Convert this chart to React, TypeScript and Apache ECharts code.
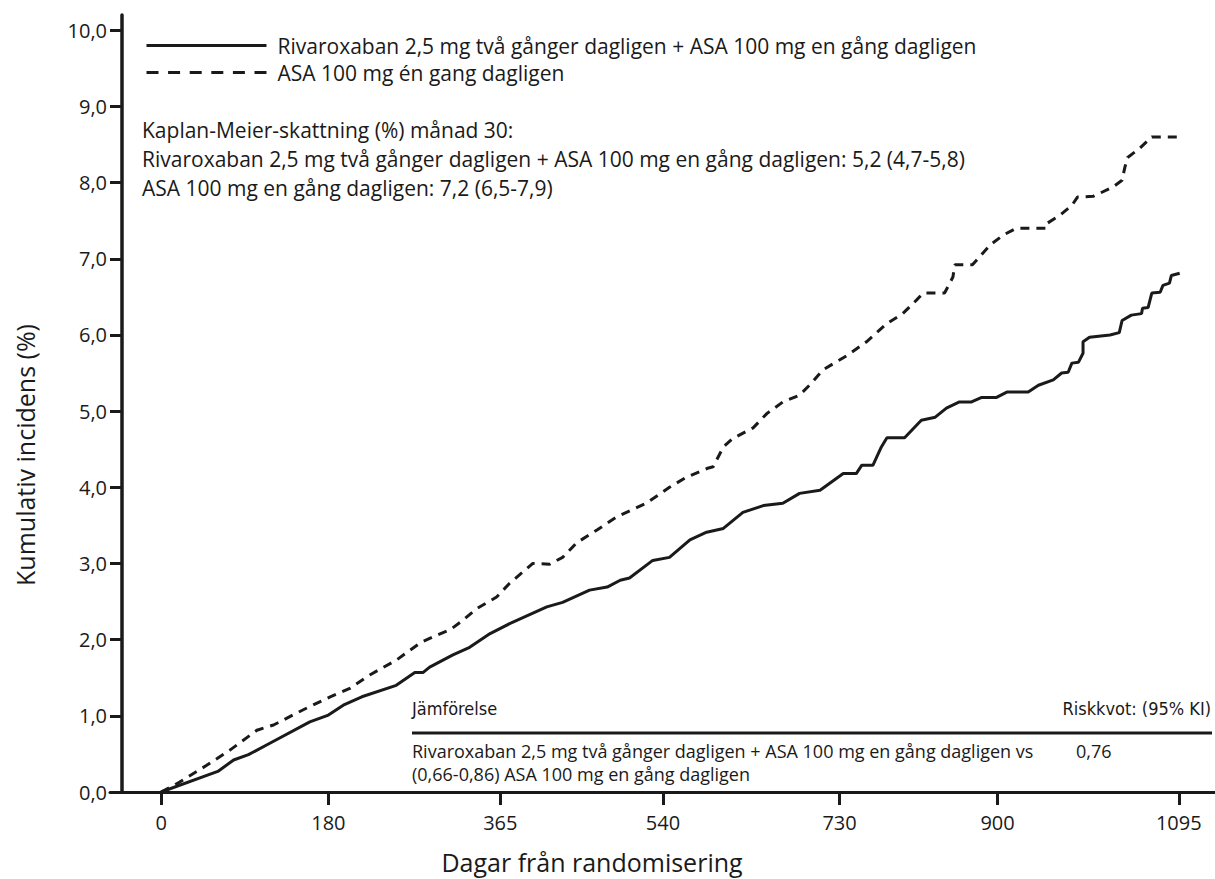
import React, { useEffect, useRef } from "react";
import * as echarts from "echarts";

const xTickValues = [0, 180, 365, 540, 730, 900, 1095];
const yTickValues = [0, 1, 2, 3, 4, 5, 6, 7, 8, 9, 10];

const rivaName = "Rivaroxaban 2,5 mg två gånger dagligen + ASA 100 mg en gång dagligen";
const asaName = "ASA 100 mg én gang dagligen";

const rivaDays = [0, 61, 78, 94, 117, 160, 180, 196, 216, 253, 273, 282, 289, 314, 332, 354, 375, 415, 432, 461, 480, 494, 504, 529, 547, 569, 587, 605, 626, 648, 669, 687, 709, 734, 748, 754, 766, 775, 781, 800, 818, 833, 845, 859, 872, 883, 899, 910, 933, 944, 960, 969, 976, 980, 987, 992, 992, 999, 1021, 1031, 1034, 1044, 1055, 1056, 1062, 1066, 1075, 1078, 1085, 1087, 1096];
const rivaIncidence = [0, 0.27, 0.42, 0.49, 0.64, 0.92, 1.01, 1.14, 1.25, 1.4, 1.57, 1.57, 1.64, 1.8, 1.9, 2.08, 2.21, 2.43, 2.49, 2.65, 2.69, 2.78, 2.81, 3.04, 3.08, 3.31, 3.41, 3.46, 3.67, 3.76, 3.79, 3.92, 3.96, 4.18, 4.18, 4.29, 4.29, 4.53, 4.65, 4.65, 4.88, 4.92, 5.04, 5.12, 5.12, 5.18, 5.18, 5.25, 5.25, 5.34, 5.41, 5.5, 5.51, 5.63, 5.64, 5.76, 5.91, 5.97, 6.0, 6.03, 6.19, 6.26, 6.28, 6.35, 6.36, 6.55, 6.56, 6.65, 6.68, 6.78, 6.81];

const asaDays = [0, 20, 49, 74, 103, 121, 153, 182, 203, 225, 253, 279, 297, 311, 322, 340, 361, 375, 400, 418, 432, 447, 469, 490, 522, 547, 565, 588, 594, 605, 615, 637, 652, 669, 687, 700, 712, 738, 759, 781, 798, 813, 820, 843, 852, 854, 873, 892, 906, 920, 953, 954, 967, 980, 986, 1003, 1024, 1034, 1037, 1040, 1053, 1066, 1100];
const asaIncidence = [0, 0.13, 0.35, 0.55, 0.81, 0.88, 1.08, 1.25, 1.36, 1.54, 1.73, 1.96, 2.06, 2.13, 2.23, 2.41, 2.56, 2.74, 3.0, 2.99, 3.08, 3.27, 3.44, 3.61, 3.79, 4.0, 4.13, 4.25, 4.27, 4.53, 4.64, 4.78, 4.97, 5.12, 5.21, 5.37, 5.54, 5.73, 5.91, 6.15, 6.28, 6.46, 6.55, 6.55, 6.76, 6.92, 6.92, 7.18, 7.31, 7.4, 7.4, 7.47, 7.57, 7.7, 7.81, 7.82, 7.94, 8.03, 8.2, 8.33, 8.45, 8.6, 8.6];

const yAxisTitle = "Kumulativ incidens (%)";
const xAxisTitle = "Dagar från randomisering";
const kmTitle = "Kaplan-Meier-skattning (%) månad 30:";
const kmLines = [
  "Rivaroxaban 2,5 mg två gånger dagligen + ASA 100 mg en gång dagligen: 5,2 (4,7-5,8)",
  "ASA 100 mg en gång dagligen: 7,2 (6,5-7,9)",
];
const comparisonHeader = "Jämförelse";
const hazardHeader = "Riskkvot: (95% KI)";
const comparisonRow1 = "Rivaroxaban 2,5 mg två gånger dagligen + ASA 100 mg en gång dagligen vs";
const hazardValue = "0,76";
const comparisonRow2 = "(0,66-0,86) ASA 100 mg en gång dagligen";

const FONT = '"Open Sans", "Noto Sans", sans-serif';
const NARROW = '"Liberation Sans Narrow", "DejaVu Sans Condensed", "Open Sans", sans-serif';
const INK = "#1a1a1a";

export default function App() {
  const ref = useRef<HTMLDivElement>(null);
  useEffect(() => {
    if (!ref.current) return;
    const chart = echarts.init(ref.current, undefined, { renderer: "svg" });
    const txt = (text: string, x: number, y: number, size: number, family = FONT, align = "left") => ({
      type: "text",
      x,
      y,
      silent: true,
      style: { text, fontSize: size, fontFamily: family, fill: INK, align, verticalAlign: "middle" },
    });
    chart.setOption({
      animation: false,
      backgroundColor: "#ffffff",
      textStyle: { fontFamily: FONT },
      grid: { left: 110, right: 0, top: 15, bottom: 87, containLabel: false },
      xAxis: {
        type: "value",
        min: -55,
        max: 1134,
        axisLine: { show: true, onZero: false, lineStyle: { color: INK, width: 3 } },
        axisTick: { show: true, customValues: xTickValues, length: 13, lineStyle: { color: INK, width: 3 } },
        axisLabel: {
          customValues: xTickValues,
          margin: 20,
          fontSize: 20,
          color: INK,
          fontFamily: FONT,
          formatter: (v: number) => String(v),
        },
        splitLine: { show: false },
      },
      yAxis: {
        type: "value",
        min: 0,
        max: 10.2,
        offset: -12,
        axisLine: { show: true, onZero: false, lineStyle: { color: INK, width: 3.5 } },
        axisTick: { show: true, customValues: yTickValues, length: 12, lineStyle: { color: INK, width: 3 } },
        axisLabel: {
          customValues: yTickValues,
          margin: 15,
          fontSize: 20,
          color: INK,
          fontFamily: FONT,
          formatter: (v: number) => v.toFixed(1).replace(".", ","),
        },
        splitLine: { show: false },
      },
      legend: {
        orient: "vertical",
        left: 140,
        top: 30,
        itemWidth: 120,
        itemHeight: 14,
        itemGap: 6,
        itemStyle: { opacity: 0, borderWidth: 0 },
        lineStyle: { width: 3 },
        textStyle: { fontSize: 21, color: INK, fontFamily: FONT, padding: [0, 0, 0, 6] },
        data: [
          { name: rivaName },
          { name: asaName, lineStyle: { type: [12, 9.6], width: 3 } },
        ],
      },
      series: [
        {
          type: "line",
          name: rivaName,
          data: rivaDays.map((d, i) => [d, rivaIncidence[i]]),
          symbol: "none",
          symbolSize: 0,
          showSymbol: false,
          lineStyle: { color: INK, width: 3, type: "solid" },
          itemStyle: { color: INK },
        },
        {
          type: "line",
          name: asaName,
          data: asaDays.map((d, i) => [d, asaIncidence[i]]),
          symbol: "none",
          symbolSize: 0,
          showSymbol: false,
          lineStyle: { color: INK, width: 3, type: [9, 7] },
          itemStyle: { color: INK },
        },
      ],
      graphic: [
        {
          type: "text",
          x: 25,
          y: 455,
          rotation: Math.PI / 2,
          silent: true,
          style: { text: yAxisTitle, fontSize: 25, fontFamily: FONT, fill: INK, align: "center", verticalAlign: "middle" },
        },
        txt(xAxisTitle, 592, 862, 25, FONT, "center"),
        txt(kmTitle, 142, 130, 21),
        txt(kmLines[0], 142, 159, 21),
        txt(kmLines[1], 142, 188, 21),
        txt(comparisonHeader, 412, 708, 18, NARROW),
        txt(hazardHeader, 1211, 708, 18, NARROW, "right"),
        {
          type: "line",
          silent: true,
          shape: { x1: 412, y1: 733, x2: 1212, y2: 733 },
          style: { stroke: INK, lineWidth: 3 },
        },
        txt(comparisonRow1, 412, 751, 18),
        txt(hazardValue, 1076, 751, 18),
        txt(comparisonRow2, 412, 774, 18),
      ],
    });
    return () => chart.dispose();
  }, []);
  return (
    <div
      ref={ref}
      style={{ position: "fixed", left: 0, top: 0, width: 1215, height: 879, background: "#fff" }}
    />
  );
}
